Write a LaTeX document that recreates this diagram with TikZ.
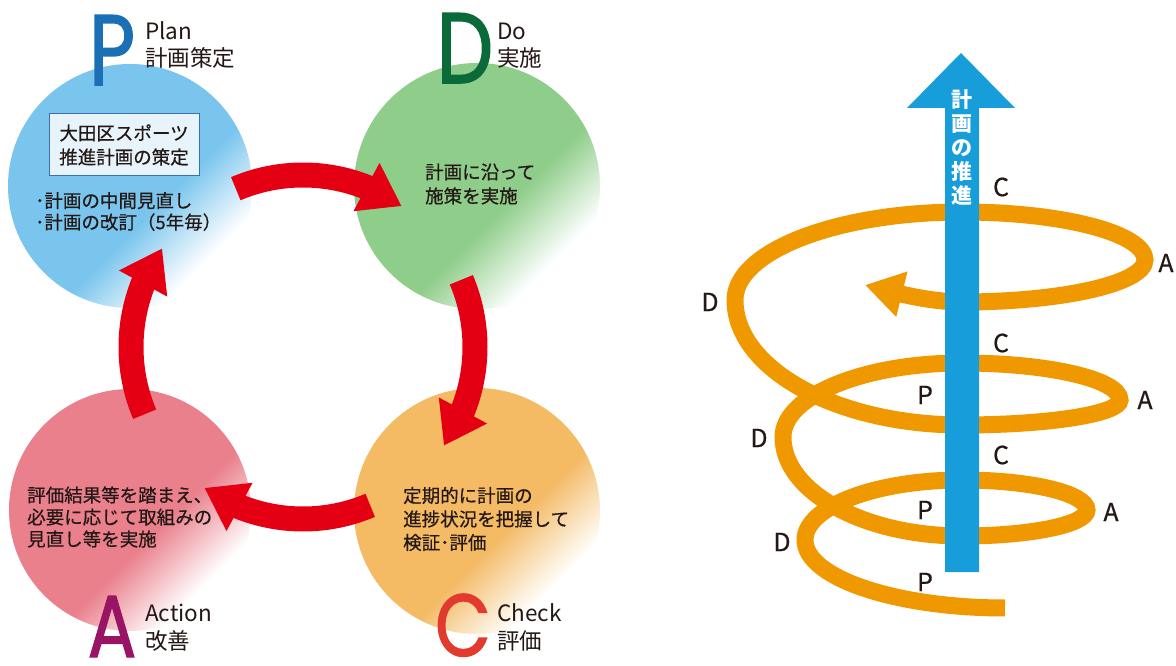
\documentclass[tikz,border=0pt]{standalone}
\usepackage{fontspec}
\setmainfont{Noto Sans CJK JP}
\newfontfamily\jpm{Noto Sans CJK JP}[FakeBold=0.5]
\newfontfamily\bigfont{Poppins}[FakeBold=1.6]
\usetikzlibrary{arrows.meta,bending}
\definecolor{cP}{RGB}{122,197,238}
\definecolor{cD}{RGB}{143,205,138}
\definecolor{cA}{RGB}{233,128,140}
\definecolor{cC}{RGB}{244,186,100}
\definecolor{lP}{RGB}{27,111,181}
\definecolor{lD}{RGB}{10,106,58}
\definecolor{lA}{RGB}{154,20,102}
\definecolor{lC}{RGB}{226,59,46}
\definecolor{arrowred}{RGB}{228,0,18}
\definecolor{textc}{RGB}{35,24,21}
\definecolor{boxblue}{RGB}{58,111,176}
\definecolor{boxfill}{RGB}{232,244,251}
\definecolor{spiralc}{RGB}{240,152,0}
\definecolor{bluearr}{RGB}{24,157,219}
\pgfdeclarehorizontalshading{hP}{100bp}{color(0bp)=(cP); color(57bp)=(cP); color(72bp)=(white); color(100bp)=(white)}
\pgfdeclarehorizontalshading{hD}{100bp}{color(0bp)=(cD); color(57bp)=(cD); color(72bp)=(white); color(100bp)=(white)}
\pgfdeclarehorizontalshading{hA}{100bp}{color(0bp)=(cA); color(57bp)=(cA); color(72bp)=(white); color(100bp)=(white)}
\pgfdeclarehorizontalshading{hC}{100bp}{color(0bp)=(cC); color(57bp)=(cC); color(72bp)=(white); color(100bp)=(white)}
\begin{document}
\begin{tikzpicture}[x=1pt,y=1pt,
  cyc/.style={line width=25pt, draw=arrowred, -{Triangle[length=40pt,width=52pt]}},
  body/.style={font=\jpm\fontsize{18.5}{23}\selectfont, text=textc, inner sep=0, align=left, anchor=west},
  phase/.style={circle, minimum size=#1, inner sep=0, shade, shading angle=-45},
  big/.style={font=\bigfont\fontsize{100}{100}\selectfont, inner sep=0, anchor=base},
  bigb/.style={font=\bigfont\fontsize{88}{88}\selectfont, inner sep=0, anchor=base},
  lab/.style={font=\fontsize{22.5}{22.5}\selectfont, text=textc, inner sep=0, anchor=base west},
  sp/.style={font=\jpm\fontsize{25}{25}\selectfont, text=textc, inner sep=0},
]
\useasboundingbox (0,0) rectangle (1176,665);
\fill[white] (0,0) rectangle (1176,665);

% PDCA circles
\node[phase=244pt, shading=hP] (P) at (130,479) {};
\node[phase=246pt, shading=hD] (D) at (477,479) {};
\node[phase=242pt, shading=hA] (A) at (130,155) {};
\node[phase=246pt, shading=hC] (C) at (477,154) {};

% cycle arrows
\coordinate (cyc) at (303,318);
\foreach \a/\b in {113/55, 23/-35, -67/-125, 203/145}
  \draw[cyc] (cyc) ++(\a:172) arc[start angle=\a, end angle=\b, radius=172];

% big letters
\node[big, text=lP] (Pl) at (112,580) {\scalebox{0.8}[1]{P}};
\node[big, text=lD] (Dl) at (465,582) {\scalebox{0.8}[1]{D}};
\node[bigb, text=lA] (Al) at (112,8) {\scalebox{0.82}[1]{A}};
\node[bigb, text=lC] (Cl) at (463,9) {\scalebox{0.82}[1]{C}};

\node[lab] (Pe) at (145,625) {Plan};
\node[lab] (Pj) at (145,598) {計画策定};
\node[lab] (De) at (497,625) {Do};
\node[lab] (Dj) at (497,598) {実施};
\node[lab] (Ae) at (145,44) {Action};
\node[lab] (Aj) at (145,16) {改善};
\node[lab] (Ce) at (497,44) {Check};
\node[lab] (Cj) at (497,16) {評価};

% circle texts
\node[draw=boxblue, fill=boxfill, line width=1pt, minimum width=150pt, minimum height=62pt,
      inner sep=0, align=center, font=\jpm\fontsize{18.5}{24}\selectfont, text=textc] (box) at (124,520)
      {大田区スポーツ\\推進計画の策定};
\node[body, font=\jpm\fontsize{18.5}{21.5}\selectfont] (Pt) at (35,453.5) {･計画の中間見直し\\･計画の改訂（5年毎）};
\node[body, font=\jpm\fontsize{18.5}{24}\selectfont] (Dt) at (425,481) {計画に沿って\\施策を実施};
\node[body, font=\jpm\fontsize{18.5}{22}\selectfont] (At) at (27,148) {評価結果等を踏まえ、\\必要に応じて取組みの\\見直し等を実施};
\node[body, font=\jpm\fontsize{18.5}{23.5}\selectfont] (Ct) at (403,146) {定期的に計画の\\進捗状況を把握して\\検証･評価};

% spiral
\draw[spiralc, line width=17pt, -{Triangle[length=38pt,width=44pt]}]
  (1005,57) .. controls (894.6,57) and (805,87.5) .. (805,125)
  .. controls (805,158.1) and (875.3,185) .. (962,185)
  .. controls (1031,185) and (1087,171.6) .. (1087,155)
  .. controls (1087,140.6) and (1031,129) .. (962,129)
  .. controls (863.2,129) and (783,173.4) .. (783,228)
  .. controls (783,268.8) and (863.2,302) .. (962,302)
  .. controls (1049.2,302) and (1120,285.4) .. (1120,265)
  .. controls (1120,251.2) and (1049.2,240) .. (962,240)
  .. controls (836.7,240) and (735,296) .. (735,365)
  .. controls (735,413.6) and (836.7,453) .. (962,453)
  .. controls (1063,453) and (1145,431.5) .. (1145,405)
  .. controls (1145,381.8) and (1063,363) .. (962,363)
  .. controls (930,363) and (895,372) .. (865,380);

% blue progress arrow
\fill[bluearr] (945,93) -- (979,93) -- (979,557) -- (1015,557) -- (961,612) -- (907,557) -- (945,557) -- cycle;
\node[font=\bfseries\fontsize{21}{24}\selectfont, text=white, align=center, inner sep=0] (prog) at (962,517.5)
  {計\\画\\の\\推\\進};

% spiral labels
\node[sp] (c3) at (1001,478) {C};
\node[sp] (c2) at (1001,322) {C};
\node[sp] (c1) at (1001,210) {C};
\node[sp] (a3) at (1166,402) {A};
\node[sp] (a2) at (1145,265) {A};
\node[sp] (a1) at (1111,153) {A};
\node[sp] (d3) at (710,363) {D};
\node[sp] (d2) at (759,227) {D};
\node[sp] (d1) at (782,123) {D};
\node[sp] (p2) at (925,270) {P};
\node[sp] (p1) at (925,155) {P};
\node[sp] (p0) at (925,83) {P};
\end{tikzpicture}
\end{document}
